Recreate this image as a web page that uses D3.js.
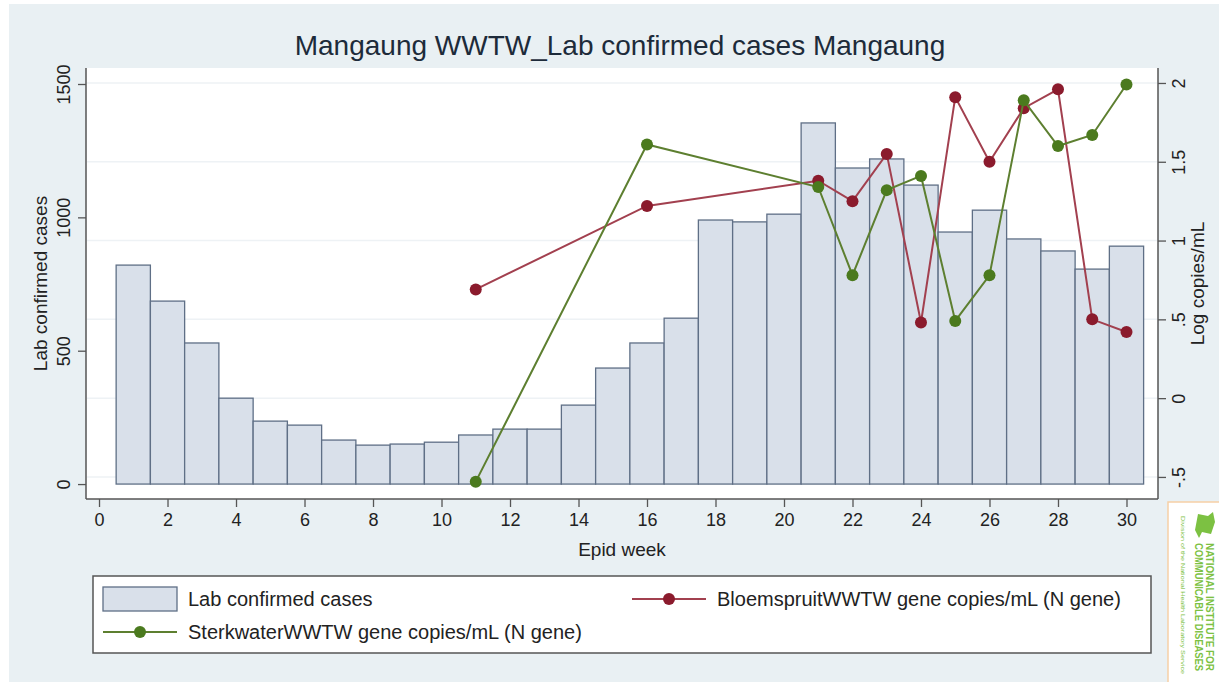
<!DOCTYPE html>
<html>
<head>
<meta charset="utf-8">
<script src="https://cdn.jsdelivr.net/npm/d3@7"></script>
<style>
  body { margin: 0; background: #fff; }
  text { font-family: "Liberation Sans", Arial, sans-serif; }
</style>
</head>
<body>
<div id="chart"></div>
<script>
// Mangaung WWTW - lab confirmed cases (bars) vs wastewater gene copies (lines)

var weeks = d3.range(1, 31);
var labCases = [821, 686, 529, 322, 236, 221, 165, 146, 150, 157,
                184, 206, 206, 296, 435, 529, 622, 990, 983, 1012,
                1354, 1185, 1219, 1121, 945, 1027, 919, 874, 806, 892];

var sampleWeeks = [11, 16, 21, 22, 23, 24, 25, 26, 27, 28, 29, 30];
var bloemspruit = [0.69, 1.22, 1.38, 1.25, 1.55, 0.48, 1.91, 1.50, 1.84, 1.96, 0.50, 0.42];
var sterkwater  = [-0.53, 1.61, 1.34, 0.78, 1.32, 1.41, 0.49, 0.78, 1.89, 1.60, 1.67, 1.99];

var xTicks = [0, 2, 4, 6, 8, 10, 12, 14, 16, 18, 20, 22, 24, 26, 28, 30];
var leftTicks = [0, 500, 1000, 1500];
var rightTicks = [-0.5, 0, 0.5, 1, 1.5, 2];
var rightTickLabels = ["-.5", "0", ".5", "1", "1.5", "2"];

var W = 1219, H = 682;
var plot = {left: 86, right: 1158, top: 68, bottom: 499};

var svg = d3.select("#chart").append("svg")
  .attr("width", W)
  .attr("height", H);

// page background
svg.append("rect")
  .attr("x", 9).attr("y", 4)
  .attr("width", W - 9).attr("height", H - 4)
  .attr("fill", "#e9f0f3");

// plot region
svg.append("rect")
  .attr("x", plot.left).attr("y", plot.top)
  .attr("width", plot.right - plot.left).attr("height", plot.bottom - plot.top)
  .attr("fill", "#ffffff");

var x = d3.scaleLinear().domain([-0.38, 30.92]).range([plot.left, plot.right]);
var yL = d3.scaleLinear().domain([-56, 1560]).range([plot.bottom, plot.top]);
var yR = d3.scaleLinear().domain([-0.64, 2.095]).range([plot.bottom, plot.top]);

// faint gridlines (follow right axis)
svg.append("g").selectAll("line")
  .data(rightTicks)
  .enter().append("line")
    .attr("x1", plot.left + 1).attr("x2", plot.right - 1)
    .attr("y1", function(d) { return yR(d); })
    .attr("y2", function(d) { return yR(d); })
    .attr("stroke", "#eef2f5")
    .attr("stroke-width", 1.5);

// bars
svg.append("g").selectAll("rect")
  .data(weeks)
  .enter().append("rect")
    .attr("x", function(d) { return x(d - 0.5); })
    .attr("width", function(d) { return x(d + 0.5) - x(d - 0.5); })
    .attr("y", function(d, i) { return yL(labCases[i]); })
    .attr("height", function(d, i) { return yL(0) - yL(labCases[i]); })
    .attr("fill", "#d9e0ea")
    .attr("stroke", "#5f6f86")
    .attr("stroke-width", 1.3);

// lines
var series = [
  {name: "BloemspruitWWTW gene copies/mL (N gene)", values: bloemspruit, line: "#a2404f", dot: "#8b1b2d"},
  {name: "SterkwaterWWTW gene copies/mL (N gene)", values: sterkwater, line: "#5d7f30", dot: "#4b7a1e"}
];

var lineGen = d3.line()
  .x(function(d) { return x(d[0]); })
  .y(function(d) { return yR(d[1]); });

series.forEach(function(s) {
  var pts = sampleWeeks.map(function(w, i) { return [w, s.values[i]]; });
  svg.append("path")
    .datum(pts)
    .attr("d", lineGen)
    .attr("fill", "none")
    .attr("stroke", s.line)
    .attr("stroke-width", 2);
  svg.append("g").selectAll("circle")
    .data(pts)
    .enter().append("circle")
      .attr("cx", function(d) { return x(d[0]); })
      .attr("cy", function(d) { return yR(d[1]); })
      .attr("r", 6)
      .attr("fill", s.dot);
});

// axes
var axisColor = "#555";

var gx = svg.append("g")
  .attr("transform", "translate(0," + plot.bottom + ")")
  .call(d3.axisBottom(x).tickValues(xTicks).tickSize(8).tickPadding(6).tickFormat(d3.format("d")));
gx.selectAll("text").style("font-size", "18px").attr("fill", "#222");

var gl = svg.append("g")
  .attr("transform", "translate(" + plot.left + ",0)")
  .call(d3.axisLeft(yL).tickValues(leftTicks).tickSize(8).tickFormat(d3.format("d")));
gl.selectAll("text")
  .attr("x", 0).attr("dy", 0)
  .attr("transform", "translate(-16,0) rotate(-90)")
  .attr("text-anchor", "middle")
  .style("font-size", "18px").attr("fill", "#222");

var gr = svg.append("g")
  .attr("transform", "translate(" + plot.right + ",0)")
  .call(d3.axisRight(yR).tickValues(rightTicks).tickSize(8)
    .tickFormat(function(d, i) { return rightTickLabels[i]; }));
gr.selectAll("text")
  .attr("x", 0).attr("dy", 0)
  .attr("transform", "translate(27,0) rotate(-90)")
  .attr("text-anchor", "middle")
  .style("font-size", "18px").attr("fill", "#222");

[gx, gl, gr].forEach(function(g) {
  g.select(".domain").attr("stroke", axisColor).attr("stroke-width", 1.5);
  g.selectAll(".tick line").attr("stroke", axisColor).attr("stroke-width", 1.3);
});
// extend the axis lines to the full plot region
gl.select(".domain").attr("d", "M0," + plot.top + "V" + plot.bottom);
gr.select(".domain").attr("d", "M0," + plot.top + "V" + plot.bottom);
gx.select(".domain").attr("d", "M" + plot.left + ",0H" + plot.right);

// titles
svg.append("text")
  .attr("x", 620).attr("y", 55)
  .attr("text-anchor", "middle")
  .style("font-size", "28px")
  .attr("fill", "#1d2b3a")
  .text("Mangaung WWTW_Lab confirmed cases Mangaung");

svg.append("text")
  .attr("x", (plot.left + plot.right) / 2).attr("y", 556)
  .attr("text-anchor", "middle")
  .style("font-size", "19px")
  .attr("fill", "#222")
  .text("Epid week");

svg.append("text")
  .attr("transform", "translate(47," + (plot.top + plot.bottom) / 2 + ") rotate(-90)")
  .attr("text-anchor", "middle")
  .style("font-size", "19px")
  .attr("fill", "#222")
  .text("Lab confirmed cases");

svg.append("text")
  .attr("transform", "translate(1204," + (plot.top + plot.bottom) / 2 + ") rotate(-90)")
  .attr("text-anchor", "middle")
  .style("font-size", "19px")
  .attr("fill", "#222")
  .text("Log copies/mL");

// legend
var lg = svg.append("g");
lg.append("rect")
  .attr("x", 93).attr("y", 576)
  .attr("width", 1058).attr("height", 77)
  .attr("fill", "#fff")
  .attr("stroke", "#555")
  .attr("stroke-width", 1.5);

lg.append("rect")
  .attr("x", 103).attr("y", 587)
  .attr("width", 74).attr("height", 24)
  .attr("fill", "#d9e0ea")
  .attr("stroke", "#5f6f86")
  .attr("stroke-width", 1.3);
lg.append("text")
  .attr("x", 188).attr("y", 606)
  .style("font-size", "20px").attr("fill", "#222")
  .text("Lab confirmed cases");

var legendLines = [
  {s: series[1], x0: 103, y: 632},
  {s: series[0], x0: 632, y: 599}
];
legendLines.forEach(function(l) {
  lg.append("line")
    .attr("x1", l.x0).attr("x2", l.x0 + 74)
    .attr("y1", l.y).attr("y2", l.y)
    .attr("stroke", l.s.line).attr("stroke-width", 2);
  lg.append("circle")
    .attr("cx", l.x0 + 37).attr("cy", l.y).attr("r", 6)
    .attr("fill", l.s.dot);
  lg.append("text")
    .attr("x", l.x0 + 85).attr("y", l.y + 7)
    .style("font-size", "20px").attr("fill", "#222")
    .text(l.s.name);
});

// NICD logo (rotated)
var logo = svg.append("g");
logo.append("rect")
  .attr("x", 1168).attr("y", 502)
  .attr("width", 60).attr("height", 190)
  .attr("fill", "#fff")
  .attr("stroke", "#f6cfa6")
  .attr("stroke-width", 1.5);
logo.append("path")
  .attr("d", "M1198,514 l10,2 l5,-4 l2,10 l-4,12 l-9,-2 l-3,6 l-4,-8 z")
  .attr("fill", "#7cc142");
logo.append("text")
  .attr("transform", "translate(1206,543) rotate(90)")
  .attr("textLength", 128).attr("lengthAdjust", "spacingAndGlyphs")
  .style("font-size", "10px").style("font-weight", "bold")
  .attr("fill", "#7cc142")
  .text("NATIONAL INSTITUTE FOR");
logo.append("text")
  .attr("transform", "translate(1195,543) rotate(90)")
  .attr("textLength", 128).attr("lengthAdjust", "spacingAndGlyphs")
  .style("font-size", "10px").style("font-weight", "bold")
  .attr("fill", "#7cc142")
  .text("COMMUNICABLE DISEASES");
logo.append("text")
  .attr("transform", "translate(1181,516) rotate(90)")
  .attr("textLength", 158).attr("lengthAdjust", "spacingAndGlyphs")
  .style("font-size", "6px")
  .attr("fill", "#7cc142")
  .text("Division of the National Health Laboratory Service");
</script>
</body>
</html>
